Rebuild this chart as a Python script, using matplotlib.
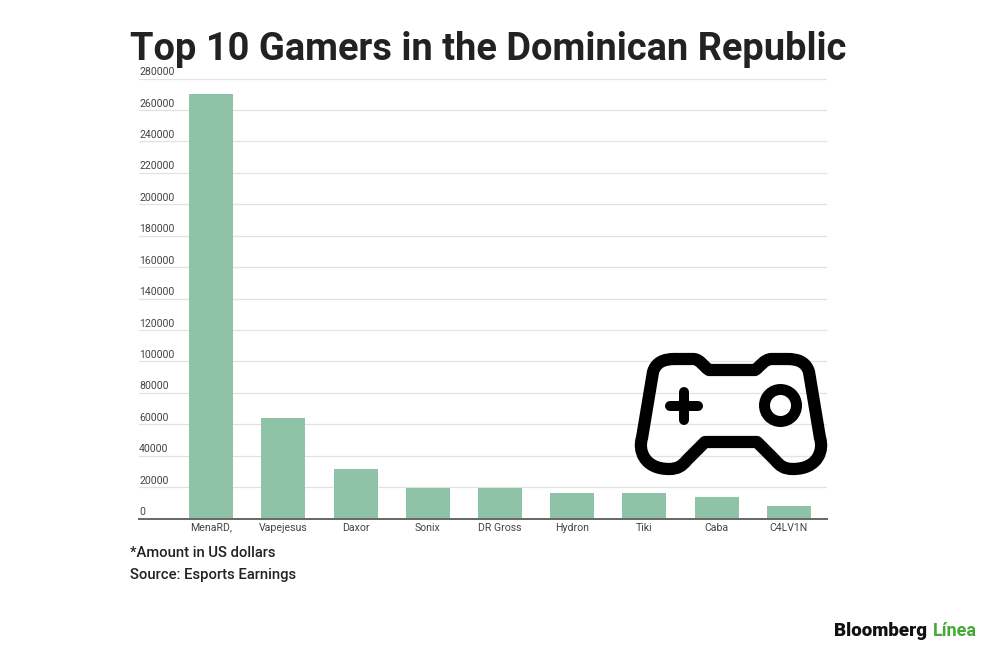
import matplotlib
matplotlib.use("Agg")
import matplotlib.pyplot as plt
from matplotlib.path import Path
from matplotlib.patches import PathPatch, Circle

plt.rcParams['font.family'] = ['Roboto', 'DejaVu Sans']

# Data
players = ['MenaRD,', 'Vapejesus', 'Daxor', 'Sonix', 'DR Gross', 'Hydron', 'Tiki', 'Caba', 'C4LV1N']
earnings = [270000, 64000, 31800, 19500, 19500, 16300, 16000, 14000, 8000]
y_ticks = list(range(0, 280001, 20000))

title = 'Top 10 Gamers in the Dominican Republic'
notes = ['*Amount in US dollars', 'Source: Esports Earnings']

fig = plt.figure(figsize=(10, 6.54), dpi=100)
ax = fig.add_axes([0.139, 1 - 518.5 / 654, 0.688, 440 / 654])

# Bars
positions = list(range(len(players)))
ax.bar(positions, earnings, width=0.61, color='#8ec3a7', zorder=2)
ax.set_xlim(-1.0, 8.53)
ax.set_ylim(0, 280000)

# Gridlines with the labels sitting on top of them
ax.set_yticks(y_ticks)
ax.set_yticklabels([])
ax.tick_params(axis='y', length=0)
ax.grid(axis='y', color='#e2e2e2', linewidth=0.9, zorder=0)
ax.set_axisbelow(True)
for tick in y_ticks:
    ax.annotate(str(tick), xy=(0, tick), xycoords=ax.get_yaxis_transform(),
                xytext=(0, 1), textcoords='offset points',
                ha='left', va='bottom', fontsize=7.6, color='#444444')

ax.set_xticks(positions)
ax.set_xticklabels(players, fontsize=7.6, color='#444444')
ax.tick_params(axis='x', length=0, pad=3)
for side in ['top', 'right', 'left']:
    ax.spines[side].set_visible(False)
ax.spines['bottom'].set_color('#666666')
ax.spines['bottom'].set_linewidth(1.4)

# Texts
fig.text(0.130, 1 - 50 / 654, title, fontsize=27.4, fontweight='bold', color='#222222',
         ha='left', va='center')
fig.text(0.130, 1 - 553 / 654, notes[0], fontsize=10.6, fontweight='medium', color='#222222',
         ha='left', va='center')
fig.text(0.130, 1 - 575 / 654, notes[1], fontsize=10.6, fontweight='medium', color='#222222',
         ha='left', va='center')

# Logo
fig.text(0.834, 1 - 631 / 654, 'Bloomberg', fontsize=13.5, fontweight='black', color='#111111',
         ha='left', va='center')
fig.text(0.9325, 1 - 631 / 654, 'Línea', fontsize=13, fontweight='bold', color='#45a938',
         ha='left', va='center')

# Gamepad icon, drawn in pixel coordinates on a transparent overlay
icon = fig.add_axes([0, 0, 1, 1], facecolor='none')
icon.set_xlim(0, 1000)
icon.set_ylim(654, 0)
icon.axis('off')

verts = [
    (675, 359), (693, 359),
    (700, 359), (703, 366), (709, 370),
    (755, 370),
    (760, 367), (764, 359), (772, 359),
    (787, 359),
    (798, 359), (806, 362), (809, 372),
    (820, 438),
    (824, 450), (818, 469), (793, 469),
    (784, 469), (780, 466), (775, 460),
    (757, 442),
    (705, 442),
    (687, 460),
    (682, 466), (678, 469), (669, 469),
    (644, 469), (638, 450), (642, 438),
    (653, 372),
    (656, 362), (664, 359), (675, 359),
]
codes = [
    Path.MOVETO, Path.LINETO,
    Path.CURVE4, Path.CURVE4, Path.CURVE4,
    Path.LINETO,
    Path.CURVE4, Path.CURVE4, Path.CURVE4,
    Path.LINETO,
    Path.CURVE4, Path.CURVE4, Path.CURVE4,
    Path.LINETO,
    Path.CURVE4, Path.CURVE4, Path.CURVE4,
    Path.CURVE4, Path.CURVE4, Path.CURVE4,
    Path.LINETO,
    Path.LINETO,
    Path.LINETO,
    Path.CURVE4, Path.CURVE4, Path.CURVE4,
    Path.CURVE4, Path.CURVE4, Path.CURVE4,
    Path.LINETO,
    Path.CURVE4, Path.CURVE4, Path.CURVE4,
]
icon.add_patch(PathPatch(Path(verts, codes), fill=False, edgecolor='black', linewidth=8.8,
                         joinstyle='round', capstyle='round'))
icon.add_patch(Circle((780.5, 405.5), 16, fill=False, edgecolor='black', linewidth=7.9))
icon.plot([670, 698], [405.5, 405.5], color='black', linewidth=7.2, solid_capstyle='round')
icon.plot([683.5, 683.5], [392, 420], color='black', linewidth=7.2, solid_capstyle='round')

fig.savefig('out.png', dpi=100, facecolor='white')
